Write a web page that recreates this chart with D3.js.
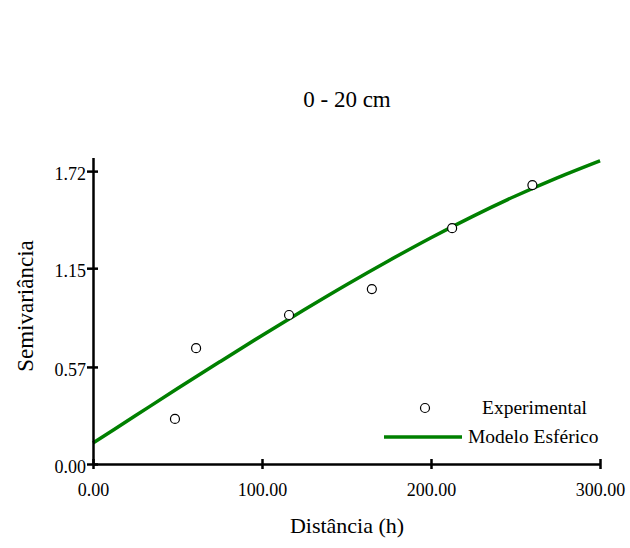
<!DOCTYPE html>
<html><head><meta charset="utf-8">
<script src="https://cdn.jsdelivr.net/npm/d3@7"></script>
<style>body{margin:0;background:#fff}svg{display:block}text{font-family:"Liberation Serif","Times New Roman",serif}</style>
</head><body>
<script>
const expDist = [48.5, 61, 116, 165, 212.5, 260];
const expSemi = [0.265, 0.68, 0.875, 1.027, 1.385, 1.638];
const modelDist = [0, 25, 50, 75, 100, 125, 150, 175, 200, 225, 250, 275, 300];
const modelSemi = [0.123, 0.283, 0.443, 0.600, 0.755, 0.906, 1.053, 1.194, 1.329, 1.456, 1.574, 1.682, 1.781];
const xTicks = [0, 100, 200, 300];
const yTicks = [0, 0.57, 1.15, 1.72];
const titleText = "0 - 20 cm";
const xLabel = "Distância (h)";
const yLabel = "Semivariância";
const legendLabels = ["Experimental", "Modelo Esférico"];

const W = 630, H = 548;
const svg = d3.select("body").append("svg").attr("width", W).attr("height", H);
const x = d3.scaleLinear().domain([0, 300]).range([93, 600]);
const y = d3.scaleLinear().domain([0, 1.8]).range([464, 157.5]);

// title
svg.append("text").attr("x", 347).attr("y", 107).attr("text-anchor", "middle")
  .attr("font-size", 23).attr("fill", "#000").text(titleText);

// model line
const line = d3.line().x((d, i) => x(modelDist[i])).y(d => y(d)).curve(d3.curveMonotoneX);
svg.append("path").datum(modelSemi).attr("d", line).attr("fill", "none")
  .attr("stroke", "#008000").attr("stroke-width", 3.5);

// points
svg.append("g").selectAll("circle").data(expSemi).join("circle")
  .attr("cx", (d, i) => x(expDist[i])).attr("cy", d => y(d)).attr("r", 4.5)
  .attr("fill", "#fff").attr("stroke", "#000").attr("stroke-width", 1.2);

// axes
const xAxis = d3.axisBottom(x).tickValues(xTicks).tickFormat(d3.format(".2f")).tickSizeInner(5).tickSizeOuter(0).tickPadding(14);
const gx = svg.append("g").attr("transform", "translate(0,464)").call(xAxis);
gx.select(".domain").attr("stroke", "#000").attr("stroke-width", 2.5);
gx.selectAll(".tick line").attr("y1", -5).attr("y2", 5).attr("stroke-width", 2.5);
gx.selectAll(".tick text").attr("font-size", 18).attr("fill", "#000").attr("font-family", "Liberation Serif");

const yAxis = d3.axisLeft(y).tickValues(yTicks).tickFormat(d3.format(".2f")).tickSizeInner(6).tickSizeOuter(0).tickPadding(1);
const gy = svg.append("g").attr("transform", "translate(93,0)").call(yAxis);
gy.select(".domain").attr("stroke", "#000").attr("stroke-width", 2.5);
gy.selectAll(".tick line").attr("x1", -6).attr("x2", 5).attr("stroke-width", 2.5);
gy.selectAll(".tick text").attr("font-size", 18).attr("dy", "0.45em").attr("fill", "#000").attr("font-family", "Liberation Serif");

// axis labels
svg.append("text").attr("x", 347).attr("y", 533).attr("text-anchor", "middle")
  .attr("font-size", 22).attr("fill", "#000").text(xLabel);
svg.append("text").attr("transform", "translate(33,306) rotate(-90)").attr("text-anchor", "middle")
  .attr("font-size", 23).attr("fill", "#000").text(yLabel);

// legend
svg.append("circle").attr("cx", 425).attr("cy", 408).attr("r", 4.5)
  .attr("fill", "#fff").attr("stroke", "#000").attr("stroke-width", 1.2);
svg.append("text").attr("x", 482).attr("y", 414).attr("font-size", 19.5).attr("fill", "#000").text(legendLabels[0]);
svg.append("line").attr("x1", 384).attr("x2", 462).attr("y1", 437).attr("y2", 437)
  .attr("stroke", "#008000").attr("stroke-width", 3.5);
svg.append("text").attr("x", 468).attr("y", 443).attr("font-size", 19.5).attr("fill", "#000").text(legendLabels[1]);
</script>
</body></html>
